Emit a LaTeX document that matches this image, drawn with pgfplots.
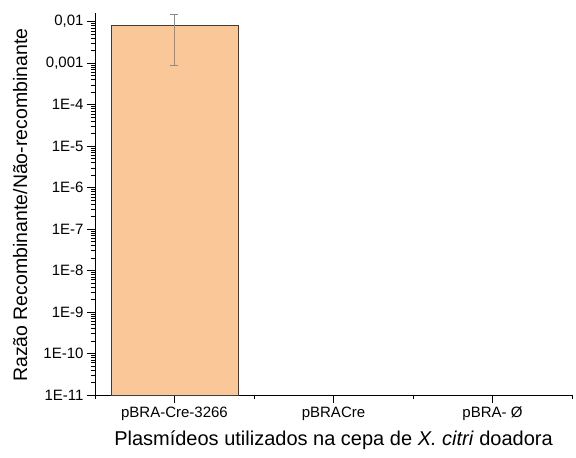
\documentclass[border=0pt]{standalone}
\usepackage{pgfplots}
\pgfplotsset{compat=1.18}
\usepackage{fontspec}
\setmainfont{Liberation Sans}
\definecolor{barfill}{RGB}{250,200,152}
\definecolor{baredge}{RGB}{60,60,60}
\definecolor{errcol}{RGB}{140,140,140}
\begin{document}
\begin{tikzpicture}
\begin{axis}[
  scale only axis,
  width=477pt, height=382pt,
  xmin=-0.5, xmax=2.5,
  ymode=log, log origin y=infty,
  ymin=1e-11, ymax=0.0162,
  axis x line=bottom, axis y line=left,
  axis line style={-, line width=0.8pt},
  tick align=outside,
  major tick length=8pt, minor tick length=4pt,
  tick style={black, line width=0.8pt},
  minor tick style={black, line width=0.6pt},
  xtick={0,1,2},
  xticklabels={pBRA-Cre-3266, pBRACre, pBRA- Ø},
  minor xtick={-0.5,0.5,1.5,2.5},
  ytick={1e-11,1e-10,1e-9,1e-8,1e-7,1e-6,1e-5,1e-4,1e-3,1e-2},
  yticklabels={1E-11,1E-10,1E-9,1E-8,1E-7,1E-6,1E-5,1E-4,{0,001},{0,01}},
  minor ytick={2e-11,3e-11,4e-11,5e-11,6e-11,7e-11,8e-11,9e-11,
    2e-10,3e-10,4e-10,5e-10,6e-10,7e-10,8e-10,9e-10,
    2e-9,3e-9,4e-9,5e-9,6e-9,7e-9,8e-9,9e-9,
    2e-8,3e-8,4e-8,5e-8,6e-8,7e-8,8e-8,9e-8,
    2e-7,3e-7,4e-7,5e-7,6e-7,7e-7,8e-7,9e-7,
    2e-6,3e-6,4e-6,5e-6,6e-6,7e-6,8e-6,9e-6,
    2e-5,3e-5,4e-5,5e-5,6e-5,7e-5,8e-5,9e-5,
    2e-4,3e-4,4e-4,5e-4,6e-4,7e-4,8e-4,9e-4,
    2e-3,3e-3,4e-3,5e-3,6e-3,7e-3,8e-3,9e-3},
  ticklabel style={font=\fontsize{15}{18}\selectfont},
  xlabel={Plasmídeos utilizados na cepa de \textit{X. citri} doadora},
  ylabel={Razão Recombinante/Não-recombinante},
  xlabel style={font=\fontsize{20}{23}\selectfont, at={(axis description cs:0.5,-0.118)}, anchor=center},
  ylabel style={font=\fontsize{19.5}{23}\selectfont, at={(axis description cs:-0.157,0.497)}, anchor=center},
]
\addplot[ybar, bar width=0.8, fill=barfill, draw=baredge, line width=0.7pt,
  error bars/.cd, y dir=both, y explicit,
  error bar style={errcol, line width=0.8pt},
  error mark options={rotate=90, mark size=4pt, draw=errcol, line width=0.8pt}]
  coordinates {(0,0.0081) +- (0,0.0072)};
\end{axis}
\pgfresetboundingbox
\path (-95pt,-63pt) rectangle (481pt,395pt);
\end{tikzpicture}
\end{document}
